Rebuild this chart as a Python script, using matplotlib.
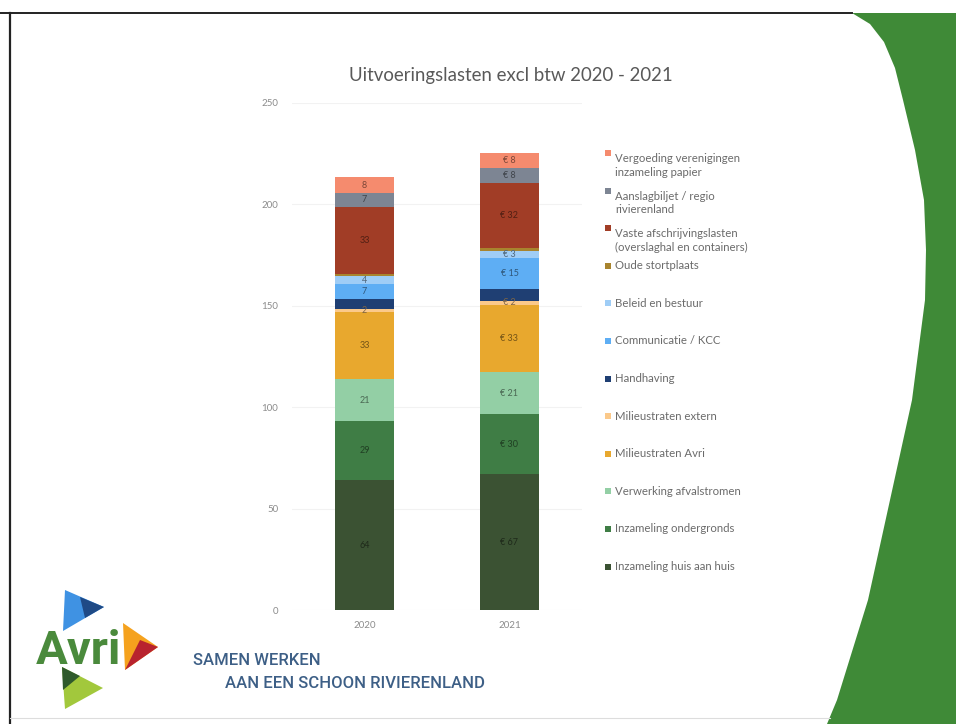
import matplotlib
matplotlib.use("Agg")
import matplotlib.pyplot as plt
from matplotlib.patches import Polygon, Rectangle
import matplotlib.colors as mcolors
import numpy as np

# data (x 1 mln euro)
years = ["2020", "2021"]
series_names = [
    "Inzameling huis aan huis",
    "Inzameling ondergronds",
    "Verwerking afvalstromen",
    "Milieustraten Avri",
    "Milieustraten extern",
    "Handhaving",
    "Communicatie / KCC",
    "Beleid en bestuur",
    "Oude stortplaats",
    "Vaste afschrijvingslasten\n(overslaghal en containers)",
    "Aanslagbiljet / regio\nrivierenland",
    "Vergoeding verenigingen\ninzameling papier",
]
values_2020 = [64, 29, 21, 33, 1.5, 5, 7.4, 3.6, 1.3, 33, 7, 7.5]
values_2021 = [67, 29.6, 20.6, 33.4, 1.6, 6, 15.4, 3.4, 1.5, 32, 7.5, 7.5]
label_prefix = ["", "€ "]
colors = ["#3b5233", "#3f7d45", "#93cfa5", "#e8a82e", "#fbc98a", "#1f3f73",
          "#5eaef4", "#9fcdf6", "#a8842e", "#a13d26", "#7d8593", "#f58b6e"]
yticks = [0, 50, 100, 150, 200, 250]
no_label = ["Oude stortplaats", "Handhaving"]

W, H = 956, 724


def fx(x):
    return x / W


def fy(y):
    return 1 - y / H


def darker(c, f=0.5):
    r, g, b = mcolors.to_rgb(c)
    return (r * f, g * f, b * f)


fig = plt.figure(figsize=(W / 100, H / 100), dpi=100)
fig.patch.set_facecolor("white")
plt.rcParams["font.family"] = ["Lato", "DejaVu Sans"]

# green slide corner on the right
edge = [(852, 13), (870, 24), (884, 42), (895, 68), (903, 100), (915, 150),
        (924, 200), (926, 250), (925, 300), (912, 400), (890, 500),
        (868, 600), (837, 700), (827, 724), (956, 724), (956, 13)]
fig.patches.append(Polygon([(fx(x), fy(y)) for x, y in edge], closed=True,
                           transform=fig.transFigure, facecolor="#3f8a37",
                           edgecolor="none", zorder=0))
# slide border lines
fig.add_artist(plt.Line2D([0, fx(852)], [fy(13), fy(13)], color="#222222", lw=1.4))
fig.add_artist(plt.Line2D([fx(10), fx(10)], [fy(13), 0], color="#222222", lw=1.6))
fig.add_artist(plt.Line2D([fx(10), fx(830)], [fy(718), fy(718)], color="#dddddd", lw=0.8))

# chart
ax = fig.add_axes([fx(292), fy(610), fx(582) - fx(292), fy(103) - fy(610)])
x = np.arange(len(years))
bottoms = np.zeros(len(years))
for i, name in enumerate(series_names):
    vals = np.array([values_2020[i], values_2021[i]])
    ax.bar(x, vals, width=0.41, bottom=bottoms, color=colors[i], zorder=2)
    if name not in no_label:
        for j in range(len(years)):
            ax.text(x[j], bottoms[j] + vals[j] / 2, f"{label_prefix[j]}{vals[j]:.0f}",
                    ha="center", va="center", fontsize=6.5, color=darker(colors[i]),
                    zorder=3)
    bottoms += vals

ax.set_xlim(-0.5, 1.5)
ax.set_ylim(0, 250)
ax.set_yticks(yticks)
ax.set_xticks(x)
ax.set_xticklabels(years)
ax.tick_params(axis="both", length=0, labelsize=7, labelcolor="#8c8c8c")
ax.tick_params(axis="y", pad=10)
ax.tick_params(axis="x", pad=8)
ax.grid(axis="y", color="#f2f2f2", lw=0.8, zorder=0)
for s in ax.spines.values():
    s.set_visible(False)
ax.set_facecolor("none")

fig.text(fx(511), fy(75), "Uitvoeringslasten excl btw 2020 - 2021", ha="center",
         va="center", fontsize=13.4, color="#595959")

# legend drawn by hand, top entry first
legend_y0, legend_step = 153, 37.6
for k, name in enumerate(series_names[::-1]):
    yy = legend_y0 + k * legend_step
    ci = len(series_names) - 1 - k
    fig.patches.append(Rectangle((fx(605), fy(yy + 3)), fx(6), 6 / H,
                                 transform=fig.transFigure, facecolor=colors[ci],
                                 edgecolor="none"))
    fig.text(fx(615), fy(yy), name, ha="left", va="top" if "\n" in name else "center",
             fontsize=8.2, color="#6b6b6b", linespacing=1.3)

# Avri logo
tri_blue = [(65, 590), (104, 607), (63, 631)]
tri_blue_dark = [(80, 597), (104, 607), (85, 618)]
tri_orange = [(123, 623), (158, 647), (125, 670)]
tri_red = [(140, 640), (158, 647), (125, 670)]
tri_green = [(62, 667), (103, 688), (65, 709)]
tri_green_dark = [(62, 667), (80, 676), (63, 690)]
for pts, c in [(tri_blue, "#3f92e3"), (tri_blue_dark, "#1f4a86"),
               (tri_orange, "#f5a21e"), (tri_red, "#b8232e"),
               (tri_green, "#a2c83c"), (tri_green_dark, "#2f5a2c")]:
    fig.patches.append(Polygon([(fx(a), fy(b)) for a, b in pts], closed=True,
                               transform=fig.transFigure, facecolor=c,
                               edgecolor="none"))
fig.text(fx(36), fy(664), "Avri", ha="left", va="baseline", fontsize=34,
         fontweight="bold", color="#4a8a3c", family=["Roboto", "DejaVu Sans"])
fig.text(fx(193), fy(665), "SAMEN WERKEN", ha="left", va="baseline", fontsize=12,
         fontweight="medium", color="#3d5f86", family=["Roboto", "DejaVu Sans"])
fig.text(fx(225), fy(688), "AAN EEN SCHOON RIVIERENLAND", ha="left", va="baseline",
         fontsize=12, fontweight="medium", color="#3d5f86",
         family=["Roboto", "DejaVu Sans"])

fig.savefig("out.png", dpi=100)
